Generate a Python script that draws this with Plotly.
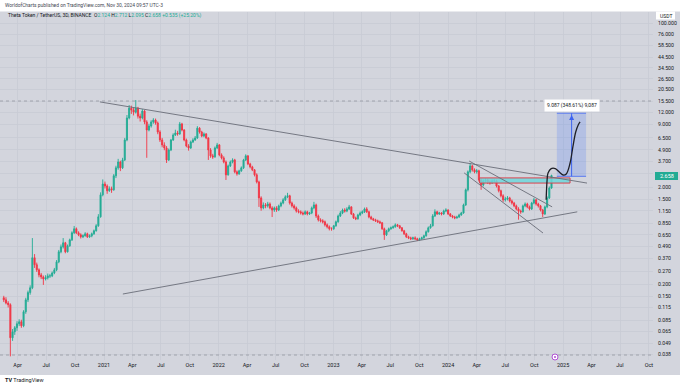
import plotly.graph_objects as go
import pandas as pd

# ---------------- data (weekly candles) ----------------
start_date = "2020-02-17"
first_open = 0.145
closes = [
    0.138, 0.128, 0.123, 0.056, 0.0646, 0.0711, 0.0781, 0.0819, 0.0745, 0.104,
    0.138, 0.164, 0.184, 0.376, 0.318, 0.282, 0.250, 0.238, 0.227, 0.233,
    0.244, 0.244, 0.262, 0.282, 0.341, 0.433, 0.487, 0.536, 0.433, 0.499,
    0.575, 0.680, 0.748, 0.680, 0.648, 0.618, 0.633, 0.664, 0.618, 0.633,
    0.664, 0.713, 0.803, 0.995, 1.68, 2.17, 2.07, 1.85, 1.94, 1.89,
    2.64, 3.19, 3.67, 3.19, 3.85, 6.19, 10.45, 13.2, 12.6, 12.0,
    13.2, 10.9, 10.45, 12.3, 9.5, 7.85, 8.63, 9.5, 9.96, 9.27,
    7.48, 6.19, 5.50, 5.12, 3.85, 4.88, 6.19, 6.97, 7.31, 7.14,
    9.06, 7.85, 6.19, 5.37, 5.12, 5.90, 6.19, 6.49, 8.2, 7.48,
    6.80, 7.14, 6.49, 4.88, 4.24, 4.14, 5.12, 5.50, 4.34, 4.04,
    3.67, 2.70, 3.34, 3.67, 3.85, 2.90, 2.76, 2.97, 3.19, 3.85,
    4.24, 3.50, 3.26, 3.04, 2.70, 2.28, 1.56, 1.23, 1.32, 1.29,
    1.35, 1.23, 1.17, 1.23, 1.17, 1.29, 1.38, 1.49, 1.60, 1.64,
    1.38, 1.29, 1.23, 1.14, 1.12, 1.09, 1.065, 1.12, 1.065, 1.09,
    1.23, 1.32, 1.015, 0.926, 0.904, 0.883, 0.822, 0.784, 0.748, 0.748,
    0.803, 0.883, 1.015, 1.09, 1.17, 1.14, 1.20, 1.26, 1.065, 0.97,
    0.948, 1.04, 1.09, 1.12, 1.20, 1.12, 0.99, 0.948, 0.926, 0.904,
    0.883, 0.862, 0.748, 0.648, 0.713, 0.748, 0.766, 0.784, 0.822, 0.803,
    0.766, 0.713, 0.664, 0.618, 0.603, 0.589, 0.603, 0.589, 0.575, 0.589,
    0.603, 0.633, 0.697, 0.766, 0.803, 1.015, 1.12, 1.065, 1.09, 1.065,
    1.14, 1.17, 1.065, 1.015, 0.99, 0.97, 0.99, 1.04, 1.09, 1.32,
    1.89, 2.90, 3.34, 3.04, 2.90, 2.97, 2.39, 2.12, 2.34, 2.39,
    2.28, 2.23, 2.34, 2.34, 2.07, 1.85, 1.64, 1.49, 1.52, 1.56,
    1.45, 1.38, 1.29, 1.20, 1.14, 1.12, 1.29, 1.35, 1.26, 1.20,
    1.38, 1.49, 1.35, 1.29, 1.17, 1.065, 1.26, 1.56, 1.97, 2.658,
]
highs = [
    0.152, 0.147, 0.134, 0.127, 0.069, 0.074, 0.083, 0.087, 0.086, 0.108,
    0.145, 0.172, 0.195, 0.60, 0.41, 0.335, 0.292, 0.262, 0.246, 0.248,
    0.258, 0.256, 0.271, 0.295, 0.356, 0.452, 0.515, 0.60, 0.548, 0.515,
    0.592, 0.705, 0.80, 0.772, 0.705, 0.672, 0.655, 0.690, 0.682, 0.655,
    0.684, 0.735, 0.835, 1.06, 1.78, 2.42, 2.30, 2.15, 2.05, 2.04,
    2.75, 3.35, 3.95, 3.78, 4.05, 6.50, 11.2, 14.2, 14.0, 13.3,
    16.0, 13.6, 11.6, 12.9, 12.6, 9.9, 9.1, 9.9, 10.4, 10.3,
    9.6, 7.8, 6.5, 5.85, 5.35, 5.05, 6.35, 7.25, 7.9, 7.7,
    9.5, 9.3, 8.0, 6.4, 5.6, 6.1, 6.45, 6.8, 8.6, 8.4,
    7.7, 7.4, 7.3, 6.6, 5.1, 4.45, 5.3, 5.77, 5.6, 4.5,
    4.2, 3.8, 3.45, 3.8, 4.0, 3.95, 3.0, 3.05, 3.3, 3.95,
    4.4, 4.3, 3.6, 3.35, 3.1, 2.8, 2.35, 1.62, 1.40, 1.38,
    1.42, 1.40, 1.28, 1.27, 1.28, 1.33, 1.43, 1.55, 1.66, 1.76,
    1.68, 1.43, 1.34, 1.27, 1.19, 1.16, 1.13, 1.16, 1.15, 1.12,
    1.27, 1.42, 1.36, 1.05, 0.96, 0.94, 0.91, 0.85, 0.81, 0.775,
    0.82, 0.91, 1.05, 1.14, 1.21, 1.22, 1.25, 1.32, 1.28, 1.09,
    1.00, 1.07, 1.13, 1.16, 1.24, 1.25, 1.15, 1.02, 0.97, 0.95,
    0.93, 0.91, 0.88, 0.77, 0.73, 0.77, 0.79, 0.81, 0.85, 0.84,
    0.82, 0.78, 0.73, 0.68, 0.635, 0.62, 0.62, 0.625, 0.605, 0.605,
    0.62, 0.65, 0.72, 0.79, 0.84, 1.06, 1.19, 1.15, 1.12, 1.11,
    1.18, 1.22, 1.19, 1.09, 1.04, 1.02, 1.02, 1.07, 1.12, 1.36,
    1.95, 3.0, 3.58, 3.42, 3.15, 3.1, 3.05, 2.48, 2.42, 2.48,
    2.46, 2.36, 2.42, 2.44, 2.40, 2.12, 1.90, 1.70, 1.60, 1.63,
    1.60, 1.50, 1.42, 1.33, 1.25, 1.18, 1.33, 1.40, 1.39, 1.30,
    1.42, 1.56, 1.52, 1.39, 1.32, 1.20, 1.30, 1.62, 2.05, 2.712,
]
lows = [
    0.131, 0.124, 0.115, 0.036, 0.052, 0.060, 0.066, 0.074, 0.071, 0.072,
    0.099, 0.131, 0.156, 0.178, 0.295, 0.268, 0.236, 0.226, 0.197, 0.219,
    0.224, 0.232, 0.237, 0.254, 0.273, 0.330, 0.418, 0.468, 0.418, 0.425,
    0.488, 0.560, 0.662, 0.662, 0.628, 0.594, 0.600, 0.622, 0.601, 0.603,
    0.612, 0.648, 0.700, 0.785, 0.975, 1.62, 1.95, 1.72, 1.80, 1.76,
    1.85, 2.50, 3.05, 2.95, 3.10, 3.75, 6.00, 10.1, 11.5, 11.1,
    11.6, 10.3, 9.6, 10.1, 9.0, 4.05, 7.6, 8.3, 9.1, 8.9,
    7.1, 5.9, 5.2, 4.85, 3.58, 3.75, 4.75, 6.05, 6.8, 6.85,
    7.0, 7.6, 6.0, 5.2, 4.8, 5.0, 5.75, 6.05, 6.35, 7.2,
    6.6, 6.6, 6.3, 3.85, 4.05, 3.95, 4.05, 5.0, 4.2, 3.9,
    3.55, 2.39, 2.65, 3.25, 3.55, 2.8, 2.65, 2.70, 2.9, 3.1,
    3.75, 3.4, 3.15, 2.95, 2.6, 2.2, 1.26, 1.15, 1.19, 1.22,
    1.24, 1.19, 0.99, 1.12, 1.12, 1.14, 1.25, 1.34, 1.45, 1.55,
    1.33, 1.24, 1.18, 1.10, 1.08, 1.05, 1.03, 1.04, 1.03, 1.04,
    1.06, 1.19, 0.97, 0.89, 0.87, 0.85, 0.79, 0.755, 0.72, 0.715,
    0.73, 0.785, 0.865, 0.99, 1.06, 1.10, 1.11, 1.17, 1.04, 0.945,
    0.92, 0.93, 1.01, 1.06, 1.09, 1.09, 0.96, 0.925, 0.90, 0.88,
    0.86, 0.84, 0.73, 0.575, 0.63, 0.69, 0.73, 0.75, 0.77, 0.78,
    0.745, 0.70, 0.645, 0.60, 0.585, 0.572, 0.575, 0.575, 0.56, 0.565,
    0.575, 0.59, 0.62, 0.685, 0.75, 0.79, 0.99, 1.04, 1.04, 1.03,
    1.04, 1.11, 1.04, 0.99, 0.96, 0.94, 0.95, 0.97, 1.02, 1.07,
    1.29, 1.82, 2.80, 2.92, 2.80, 2.78, 2.30, 1.89, 2.05, 2.26,
    2.18, 2.14, 2.18, 2.24, 2.00, 1.78, 1.58, 1.42, 1.43, 1.47,
    1.40, 1.33, 1.25, 1.16, 0.93, 1.07, 1.10, 1.25, 1.22, 1.16,
    1.17, 1.34, 1.30, 1.24, 1.13, 0.99, 1.04, 1.22, 1.52, 1.94,
]

y_tick_vals = [100, 76, 58.5, 44.5, 34.5, 26.5, 20.5, 15.5, 12, 9, 6.5, 4.9, 3.7, 2.8, 2.0,
               1.5, 1.15, 0.85, 0.65, 0.49, 0.37, 0.27, 0.2, 0.15, 0.115, 0.085, 0.065, 0.049, 0.038]
y_tick_text = ["100.000", "76.000", "58.500", "44.500", "34.500", "26.500", "20.500", "15.500",
               "12.000", "9.000", "6.500", "4.900", "3.700", "", "2.000", "1.500", "1.150", "0.850",
               "0.650", "0.490", "0.370", "0.270", "0.200", "0.150", "0.115", "0.085", "0.065",
               "0.049", "0.038"]
x_tick_vals = ["2020-04-01", "2020-07-01", "2020-10-01", "2021-01-01", "2021-04-01", "2021-07-01",
               "2021-10-01", "2022-01-01", "2022-04-01", "2022-07-01", "2022-10-01", "2023-01-01",
               "2023-04-01", "2023-07-01", "2023-10-01", "2024-01-01", "2024-04-01", "2024-07-01",
               "2024-10-01", "2025-01-01", "2025-04-01", "2025-07-01", "2025-10-01"]
x_tick_text = ["Apr", "Jul", "Oct", "2021", "Apr", "Jul", "Oct", "2022", "Apr", "Jul", "Oct", "2023",
               "Apr", "Jul", "Oct", "2024", "Apr", "Jul", "Oct", "2025", "Apr", "Jul", "Oct"]

# drawings (date, price)
upper_trend = (["2020-12-19", "2025-03-18"], [15.3, 2.22])
lower_trend = (["2021-03-02", "2025-02-15"], [0.1586, 1.12])
chan_upper = (["2024-03-08", "2024-11-27"], [3.75, 1.26])
chan_lower = (["2024-02-21", "2024-10-29"], [2.83, 0.677])
zone = (["2024-04-10", "2025-01-23"], [2.22, 2.51])
target_box = (["2024-12-12", "2025-03-15"], [2.607, 11.694])
proj_x = ["2024-11-08", "2024-11-11", "2024-11-14", "2024-11-24", "2024-12-07", "2024-12-19",
          "2025-01-01", "2025-01-11", "2025-01-23", "2025-02-01", "2025-02-10", "2025-02-18", "2025-02-24"]
proj_y = [1.49, 2.39, 2.82, 3.13, 3.13, 2.90, 2.69, 2.76, 3.56, 5.25, 7.48, 8.84, 9.5]

# ---------------- build ----------------
dates = pd.date_range(start_date, periods=len(closes), freq="7D")
opens = [first_open] + closes[:-1]
highs = [max(h, o, c) for h, o, c in zip(highs, opens, closes)]
lows = [min(l, o, c) for l, o, c in zip(lows, opens, closes)]

UP = "#22ab94"
DOWN = "#f23645"
BG = "#d3d5dd"
GRID = "#c8cbd4"
TXT = "#131722"
FONT = "Roboto"

PLOT_W = 653.0
TOP, BOT = 12.0, 360.0


def px(x):
    return x / PLOT_W


def py(y):
    return (BOT - y) / (BOT - TOP)


fig = go.Figure()

# target box (behind)
bx, by = target_box
fig.add_trace(go.Scatter(x=[bx[0], bx[1], bx[1], bx[0], bx[0]], y=[by[0], by[0], by[1], by[1], by[0]],
                         mode="lines", fill="toself", fillcolor="rgba(41,98,255,0.18)",
                         line=dict(width=0), hoverinfo="skip"))
for yy in by:
    fig.add_trace(go.Scatter(x=bx, y=[yy, yy], mode="lines", line=dict(color="#5b7bf0", width=1),
                             hoverinfo="skip"))
fig.add_trace(go.Scatter(x=["2025-01-28", "2025-01-28"], y=[by[0], by[1]], mode="lines",
                         line=dict(color="#3d63f0", width=1), hoverinfo="skip"))
fig.add_trace(go.Scatter(x=["2025-01-28"], y=[by[1] * 0.96], mode="markers",
                         marker=dict(symbol="arrow-up", size=5, color="#3d63f0"), hoverinfo="skip"))

# zone rectangle
zx, zy = zone
fig.add_trace(go.Scatter(x=[zx[0], zx[1], zx[1], zx[0], zx[0]], y=[zy[0], zy[0], zy[1], zy[1], zy[0]],
                         mode="lines", fill="toself", fillcolor="rgba(110,215,220,0.85)",
                         line=dict(color="#d9434f", width=1), hoverinfo="skip"))

# trend lines
for (lx, ly) in (upper_trend, lower_trend, chan_upper, chan_lower):
    fig.add_trace(go.Scatter(x=lx, y=ly, mode="lines", line=dict(color="#6a6d78", width=0.9),
                             hoverinfo="skip"))

# candles
fig.add_trace(go.Candlestick(
    x=dates, open=opens, high=highs, low=lows, close=closes,
    increasing=dict(line=dict(color=UP, width=0.9), fillcolor=UP),
    decreasing=dict(line=dict(color=DOWN, width=0.9), fillcolor=DOWN),
    whiskerwidth=0, hoverinfo="skip"))

# projection curve
fig.add_trace(go.Scatter(x=proj_x, y=proj_y, mode="lines", line=dict(color="#1e1f26", width=1.3, shape="spline"),
                         hoverinfo="skip"))

shapes = []
# white header / footer strips
shapes.append(dict(type="rect", xref="paper", yref="paper", x0=-0.01, x1=1.1, y0=py(11.5), y1=py(-5),
                   fillcolor="white", line=dict(width=0), layer="below"))
shapes.append(dict(type="rect", xref="paper", yref="paper", x0=-0.01, x1=1.1, y0=py(395), y1=py(375),
                   fillcolor="white", line=dict(width=0), layer="below"))
# dotted extremes
for yy in (101, 355):
    shapes.append(dict(type="line", xref="paper", yref="paper", x0=0, x1=1, y0=py(yy), y1=py(yy),
                       line=dict(color="#9598a1", width=0.8, dash="dot")))
# last price label
shapes.append(dict(type="rect", xref="paper", yref="paper", x0=px(655), x1=px(678), y0=py(180), y1=py(172),
                   fillcolor="#22ab94", line=dict(width=0)))
# USDT box
shapes.append(dict(type="rect", xref="paper", yref="paper", x0=px(656), x1=px(675), y0=py(19.5), y1=py(11.5),
                   fillcolor="white", line=dict(width=0)))
# event marker
shapes.append(dict(type="circle", xref="paper", yref="paper", x0=px(552), x1=px(558), y0=py(360), y1=py(354),
                   fillcolor="white", line=dict(color="#b04fd6", width=1)))
shapes.append(dict(type="circle", xref="paper", yref="paper", x0=px(554), x1=px(556), y0=py(358), y1=py(356),
                   fillcolor="#b04fd6", line=dict(width=0)))

annotations = [
    dict(text="WorldofCharts published on TradingView.com, Nov 30, 2024 09:57 UTC-3", xref="paper", yref="paper",
         x=px(3), y=py(5.5), xanchor="left", yanchor="middle", showarrow=False,
         font=dict(size=4.9, color="#434651", family=FONT)),
    dict(text="Theta Token / TetherUS, 3D, BINANCE  O<span style='color:#22ab94'>2.124</span> "
              "H<span style='color:#22ab94'>2.712</span> L<span style='color:#22ab94'>2.095</span> "
              "C<span style='color:#22ab94'>2.658</span> <span style='color:#22ab94'>+0.535 (+25.20%)</span>",
         xref="paper", yref="paper", x=px(6), y=py(16), xanchor="left", yanchor="middle", showarrow=False,
         font=dict(size=5, color=TXT, family=FONT)),
    dict(text="USDT", xref="paper", yref="paper", x=px(665.5), y=py(15.5), xanchor="center", yanchor="middle",
         showarrow=False, font=dict(size=5, color=TXT, family=FONT)),
    dict(text="2.658", xref="paper", yref="paper", x=px(666.5), y=py(176), xanchor="center", yanchor="middle",
         showarrow=False, font=dict(size=5.5, color="white", family=FONT)),
    dict(text="9.087 (348.61%) 9,087", xref="paper", yref="paper", x=px(571.5), y=py(105), xanchor="center",
         yanchor="middle", showarrow=False, bgcolor="white", borderpad=2,
         font=dict(size=5, color=TXT, family=FONT)),
    dict(text="<b>TV</b> TradingView", xref="paper", yref="paper", x=px(3), y=py(380), xanchor="left",
         yanchor="middle", showarrow=False, font=dict(size=5.5, color="#131722", family=FONT)),
]

fig.update_layout(
    width=680, height=385,
    margin=dict(l=0, r=680 - PLOT_W, t=TOP, b=385 - BOT),
    paper_bgcolor=BG, plot_bgcolor=BG,
    showlegend=False,
    shapes=shapes, annotations=annotations,
    xaxis=dict(type="date", range=["2020-02-05", "2025-10-14"], tickvals=x_tick_vals, ticktext=x_tick_text,
               tickfont=dict(size=5.5, color=TXT, family=FONT), showgrid=True, gridcolor=GRID, gridwidth=0.8,
               zeroline=False, showline=False, ticks="", rangeslider=dict(visible=False), fixedrange=True,
               automargin=False),
    yaxis=dict(type="log", side="right", range=[-1.4814, 2.1136], tickvals=y_tick_vals, ticktext=y_tick_text,
               tickfont=dict(size=5.2, color=TXT, family=FONT), showgrid=True, gridcolor=GRID, gridwidth=0.8,
               zeroline=False, showline=False, ticks="", ticklabelstandoff=4, fixedrange=True,
               automargin=False),
)

fig.write_html("out.html", config={"displayModeBar": False, "staticPlot": True},
               post_script="document.body.style.margin='0';document.body.style.overflow='hidden';")
